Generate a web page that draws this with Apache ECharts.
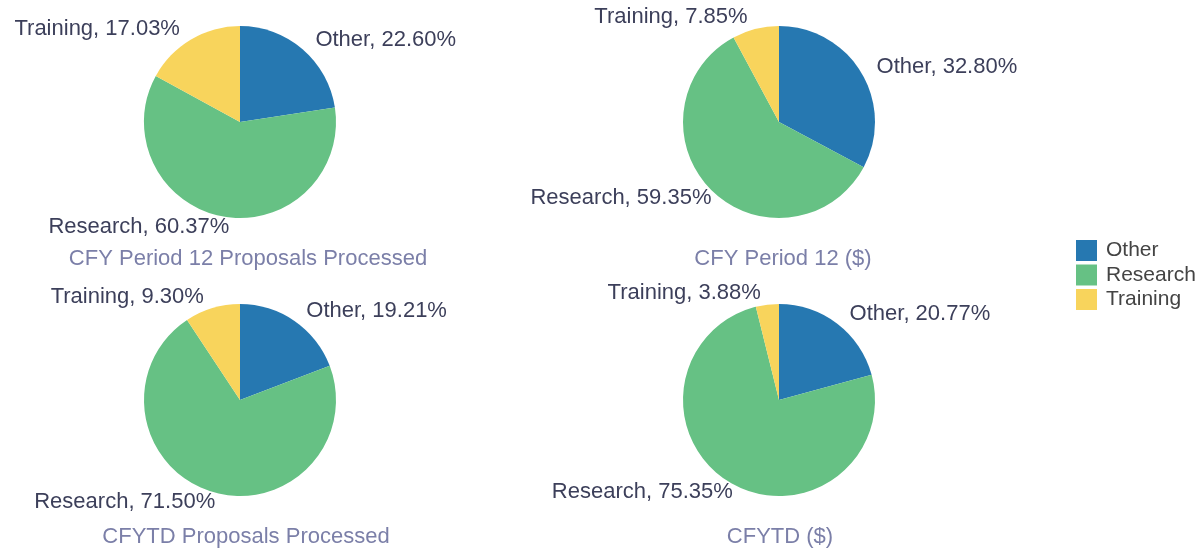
<!DOCTYPE html>
<html>
<head>
<meta charset="utf-8">
<script src="https://cdn.jsdelivr.net/npm/echarts@6/dist/echarts.min.js"></script>
<style>
html,body{margin:0;padding:0;background:#fff;}
#c{width:1198px;height:552px;}
</style>
</head>
<body>
<div id="c"></div>
<script>
const categories = ['Other', 'Research', 'Training'];
const titles = ['CFY Period 12 Proposals Processed', 'CFY Period 12 ($)', 'CFYTD Proposals Processed', 'CFYTD ($)'];
const p12Proposals = [22.60, 60.37, 17.03];
const p12Dollars = [32.80, 59.35, 7.85];
const ytdProposals = [19.21, 71.50, 9.30];
const ytdDollars = [20.77, 75.35, 3.88];

const colors = ['#2678b1', '#66c184', '#f8d45c'];
const FONT = 'Liberation Sans, Arial, sans-serif';
const allValues = [p12Proposals, p12Dollars, ytdProposals, ytdDollars];
const centers = [[240, 122], [779, 122], [240, 400], [779, 400]];
const titlePos = [[248, 248], [783, 248], [246, 526], [780, 526]];

const chart = echarts.init(document.getElementById('c'), null, {renderer: 'canvas'});

const series = allValues.map((vals, i) => ({
  type: 'pie',
  center: centers[i],
  radius: 96,
  startAngle: 90,
  clockwise: true,
  avoidLabelOverlap: false,
  silent: true,
  animation: false,
  itemStyle: {borderWidth: 0},
  label: {
    show: true,
    position: 'outside',
    formatter: p => p.name + ', ' + p.value.toFixed(2) + '%',
    fontSize: 22,
    fontFamily: FONT,
    color: '#3c3f5a'
  },
  labelLine: {show: false, length: 12, length2: 0},
  data: categories.map((c, k) => {
    const item = {name: c, value: vals[k]};
    if (c === 'Research') {
      item.labelLine = {show: false, length: 11, length2: -13};
    }
    return item;
  })
}));

chart.setOption({
  color: colors,
  animation: false,
  title: titles.map((t, i) => ({
    text: t,
    left: titlePos[i][0],
    top: titlePos[i][1],
    textAlign: 'center',
    padding: 0,
    textStyle: {fontSize: 22, fontWeight: 'normal', color: '#7b7fa8', fontFamily: FONT}
  })),
  legend: {
    orient: 'vertical',
    left: 1076,
    top: 240,
    itemWidth: 21,
    itemHeight: 21,
    itemGap: 3.5,
    icon: 'rect',
    padding: 0,
    data: categories,
    textStyle: {fontSize: 21, color: '#444', fontFamily: FONT, padding: [0, 0, 0, 4]}
  },
  series: series
});
</script>
</body>
</html>
